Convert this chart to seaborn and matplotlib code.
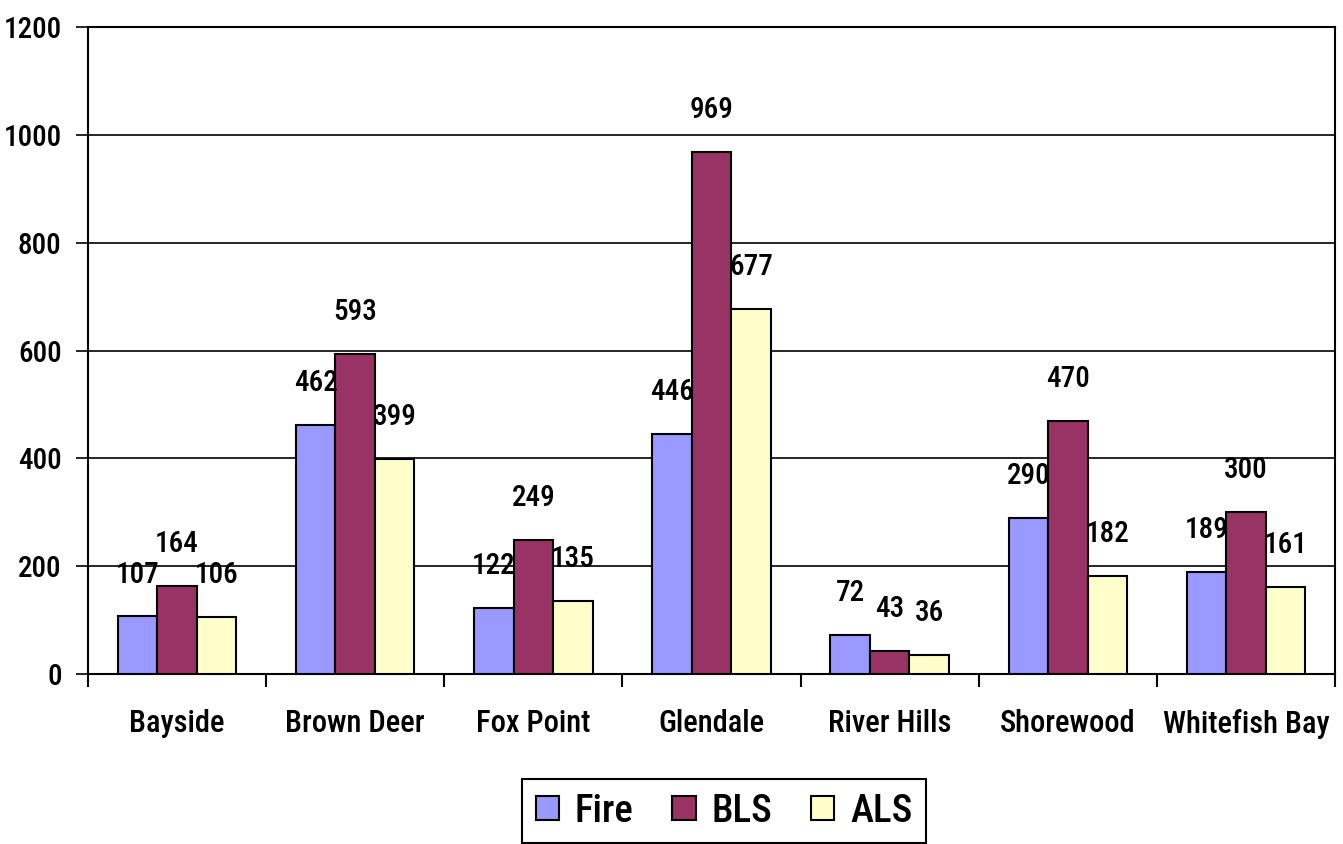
import matplotlib
matplotlib.use("Agg")
import matplotlib.pyplot as plt
from matplotlib import font_manager as fm
from matplotlib.ticker import FixedLocator, MultipleLocator
import pandas as pd
import seaborn as sns

communities = ["Bayside", "Brown Deer", "Fox Point", "Glendale", "River Hills", "Shorewood", "Whitefish Bay"]
fire = [107, 462, 122, 446, 72, 290, 189]
bls = [164, 593, 249, 969, 43, 470, 300]
als = [106, 399, 135, 677, 36, 182, 161]
series = ["Fire", "BLS", "ALS"]
colors = ["#9999FF", "#993366", "#FFFFCC"]

df = pd.DataFrame({"community": communities, "Fire": fire, "BLS": bls, "ALS": als})
df = df.melt(id_vars="community", value_vars=series, var_name="type", value_name="count")

sns.set_theme(style="white")
# narrow font like Arial Narrow, if one is around
have = {f.name for f in fm.fontManager.ttflist}
fam = [n for n in ["Liberation Sans Narrow", "Roboto Condensed", "Open Sans Condensed"] if n in have]
plt.rcParams["font.family"] = fam + ["DejaVu Sans"]
plt.rcParams["font.stretch"] = "condensed"
plt.rcParams["font.weight"] = 500
plt.rcParams["text.color"] = "black"
plt.rcParams["xtick.color"] = "black"
plt.rcParams["ytick.color"] = "black"

fig = plt.figure(figsize=(13.43, 8.44), dpi=100)
ax = fig.add_axes([88 / 1343, 1 - 674 / 844, (1335 - 88) / 1343, (674 - 27) / 844])
sns.barplot(data=df, x="community", y="count", hue="type", hue_order=series,
            palette=colors, width=0.665, gap=0, edgecolor="black", linewidth=1.5,
            saturation=1, ax=ax, zorder=3)

for cont in ax.containers:
    ax.bar_label(cont, padding=20, fontsize=21, zorder=4)

ax.set_ylim(0, 1200)
ax.set_xlim(-0.5, len(communities) - 0.5)
ax.yaxis.set_major_locator(MultipleLocator(200))
ax.yaxis.grid(True, color="black", linewidth=1.2, zorder=0)
ax.xaxis.grid(False)
ax.set_xlabel("")
ax.set_ylabel("")
for s in ax.spines.values():
    s.set_color("black")
    s.set_linewidth(1.5)
ax.xaxis.set_minor_locator(FixedLocator([i - 0.5 for i in range(len(communities) + 1)]))
ax.tick_params(axis="x", which="major", length=0, pad=25, labelsize=22)
ax.tick_params(axis="x", which="minor", length=9, width=1.5, color="black", direction="out", bottom=True)
ax.tick_params(axis="y", length=9, width=1.2, color="black", direction="out", left=True, labelsize=21, pad=10)

leg = ax.legend(loc="lower center", bbox_to_anchor=(724 / 1343, 0.0),
                bbox_transform=fig.transFigure, ncol=3, frameon=True, fancybox=False,
                edgecolor="black", framealpha=1, fontsize=28, handlelength=0.6,
                handleheight=0.6, handletextpad=0.4, columnspacing=1.0, borderpad=0.35,
                borderaxespad=0.02)
leg.get_frame().set_linewidth(1.5)

fig.savefig("out.png", dpi=100)
